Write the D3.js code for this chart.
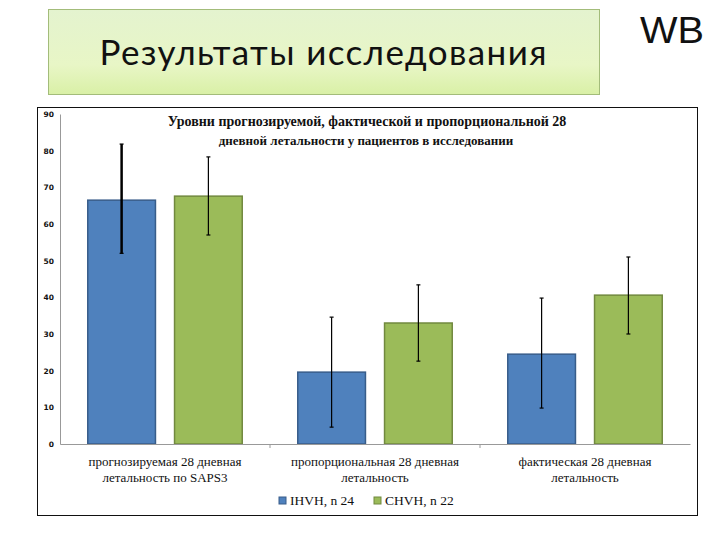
<!DOCTYPE html>
<html>
<head>
<meta charset="utf-8">
<script src="https://cdn.jsdelivr.net/npm/d3@7"></script>
<style>
  html, body { margin: 0; padding: 0; background: #fff; }
  svg { display: block; }
  text { fill: #111; }
  .serif { font-family: "Liberation Serif", serif; }
</style>
</head>
<body>
<svg id="chart" width="720" height="540"></svg>
<script>
const slideTitle = "Результаты исследования";
const chartTitle = [
  "Уровни прогнозируемой, фактической и пропорциональной 28",
  "дневной летальности у пациентов в исследовании"
];
const categories = ["predicted", "proportional", "actual"];
const categoryLabels = [
  ["прогнозируемая 28 дневная", "летальность по SAPS3"],
  ["пропорциональная 28 дневная", "летальность"],
  ["фактическая 28 дневная", "летальность"]
];
const seriesNames = ["IHVH, n 24", "CHVH, n 22"];
const seriesColors = ["#4f81bd", "#9bbb59"];
const seriesBorders = ["#385d8a", "#71893f"];
const ihvhValues = [66.5, 19.6, 24.5];
const chvhValues = [67.6, 33, 40.6];
const ihvhLow = [52, 4.6, 9.8];
const ihvhHigh = [81.8, 34.6, 39.8];
const chvhLow = [57, 22.6, 30];
const chvhHigh = [78.3, 43.4, 51];
const yTicks = [0, 10, 20, 30, 40, 50, 60, 70, 80, 90];

const svg = d3.select("#chart");
const defs = svg.append("defs");

const grad = defs.append("linearGradient")
  .attr("id", "panel")
  .attr("x1", 0).attr("y1", 0).attr("x2", 0).attr("y2", 1);
grad.append("stop").attr("offset", "0%").attr("stop-color", "#e4f3cf");
grad.append("stop").attr("offset", "65%").attr("stop-color", "#e8f6c6");
grad.append("stop").attr("offset", "100%").attr("stop-color", "#d9f0a6");

// slide header
svg.append("rect")
  .attr("x", 48.5).attr("y", 9.5)
  .attr("width", 551).attr("height", 85)
  .attr("fill", "url(#panel)")
  .attr("stroke", "#a3bc7a");

svg.append("text")
  .attr("x", 323).attr("y", 65)
  .attr("text-anchor", "middle")
  .attr("font-family", "Lato, 'Open Sans', sans-serif")
  .attr("font-size", 35)
  .attr("textLength", 447)
  .text(slideTitle);

// logo
svg.append("text")
  .attr("x", 640).attr("y", 43)
  .attr("font-family", "'Liberation Sans', sans-serif")
  .attr("font-size", 36)
  .attr("font-weight", 300)
  .attr("fill", "#222")
  .attr("textLength", 64)
  .attr("lengthAdjust", "spacingAndGlyphs")
  .text("WB");

// chart frame
svg.append("rect")
  .attr("x", 37.5).attr("y", 107.5)
  .attr("width", 660).attr("height", 408)
  .attr("fill", "#fff")
  .attr("stroke", "#111")
  .attr("stroke-width", 1);

const x0 = d3.scaleBand().domain(categories).range([60, 690]);
const x1 = d3.scaleBand()
  .domain(seriesNames)
  .range([0, x0.bandwidth()])
  .paddingInner(0.22)
  .paddingOuter(0.32);
const y = d3.scaleLinear().domain([0, 90]).range([444, 114]);

const yAxis = d3.axisLeft(y).tickValues(yTicks).tickSize(0).tickPadding(6);
const gy = svg.append("g").attr("transform", "translate(60,0)").call(yAxis);
gy.select(".domain").attr("stroke", "#999");
gy.selectAll("text")
  .attr("font-family", "'DejaVu Sans', sans-serif")
  .attr("font-size", 7.5)
  .attr("font-weight", "bold")
  .attr("fill", "#222");

const series = [
  { name: seriesNames[0], values: ihvhValues, low: ihvhLow, high: ihvhHigh, errWidth: 2.5 },
  { name: seriesNames[1], values: chvhValues, low: chvhLow, high: chvhHigh, errWidth: 1.2 }
];

series.forEach((s, si) => {
  const g = svg.append("g");
  const rows = categories.map((c, i) => ({
    cat: c, value: s.values[i], low: s.low[i], high: s.high[i], first: i === 0
  }));
  const cx = (d) => x0(d.cat) + x1(s.name) + x1.bandwidth() / 2;

  g.selectAll("rect")
    .data(rows)
    .join("rect")
    .attr("x", (d) => x0(d.cat) + x1(s.name))
    .attr("y", (d) => y(d.value))
    .attr("width", x1.bandwidth())
    .attr("height", (d) => y(0) - y(d.value))
    .attr("fill", seriesColors[si])
    .attr("stroke", seriesBorders[si])
    .attr("stroke-width", 1.5);

  // white halo under error bar, then the bar itself
  g.selectAll("line.err")
    .data(rows)
    .join("line")
    .attr("class", "err")
    .attr("x1", cx).attr("x2", cx)
    .attr("y1", (d) => y(d.low)).attr("y2", (d) => y(d.high))
    .attr("stroke", "#000")
    .attr("stroke-width", (d) => (d.first ? s.errWidth : 1.2));

  ["low", "high"].forEach((k) => {
    g.selectAll("line.cap-" + k)
      .data(rows)
      .join("line")
      .attr("class", "cap-" + k)
      .attr("x1", (d) => cx(d) - 2).attr("x2", (d) => cx(d) + 2)
      .attr("y1", (d) => y(d[k])).attr("y2", (d) => y(d[k]))
      .attr("stroke", "#000")
      .attr("stroke-width", 1.2);
  });
});

// x axis on top of bars
const xAxis = d3.axisBottom(x0).tickValues([]).tickSize(0).tickFormat("");
const gx = svg.append("g").attr("transform", "translate(0,444)").call(xAxis);
gx.select(".domain").attr("stroke", "#999");
gx.selectAll("line.sep")
  .data(x0.domain().slice(1))
  .join("line")
  .attr("class", "sep")
  .attr("x1", (c) => x0(c)).attr("x2", (c) => x0(c))
  .attr("y1", 0).attr("y2", 4)
  .attr("stroke", "#999");

// category labels
categoryLabels.forEach((lines, i) => {
  const t = svg.append("text")
    .attr("class", "serif")
    .attr("text-anchor", "middle")
    .attr("font-size", 13);
  lines.forEach((line, j) => {
    t.append("tspan")
      .attr("x", x0(categories[i]) + x0.bandwidth() / 2)
      .attr("y", 466 + j * 16)
      .text(line);
  });
});

// chart title
const tt = svg.append("text")
  .attr("class", "serif")
  .attr("text-anchor", "middle")
  .attr("font-size", 14)
  .attr("font-weight", "bold");
tt.append("tspan").attr("x", 367).attr("y", 126).text(chartTitle[0]);
tt.append("tspan").attr("x", 366).attr("y", 145).attr("font-size", 13).text(chartTitle[1]);

// legend
const legendX = [279, 374];
seriesNames.forEach((name, i) => {
  svg.append("rect")
    .attr("x", legendX[i]).attr("y", 497)
    .attr("width", 7).attr("height", 7)
    .attr("fill", seriesColors[i])
    .attr("stroke", seriesBorders[i]);
  svg.append("text")
    .attr("class", "serif")
    .attr("x", legendX[i] + 11).attr("y", 505)
    .attr("font-size", 13.5)
    .text(name);
});
</script>
</body>
</html>
